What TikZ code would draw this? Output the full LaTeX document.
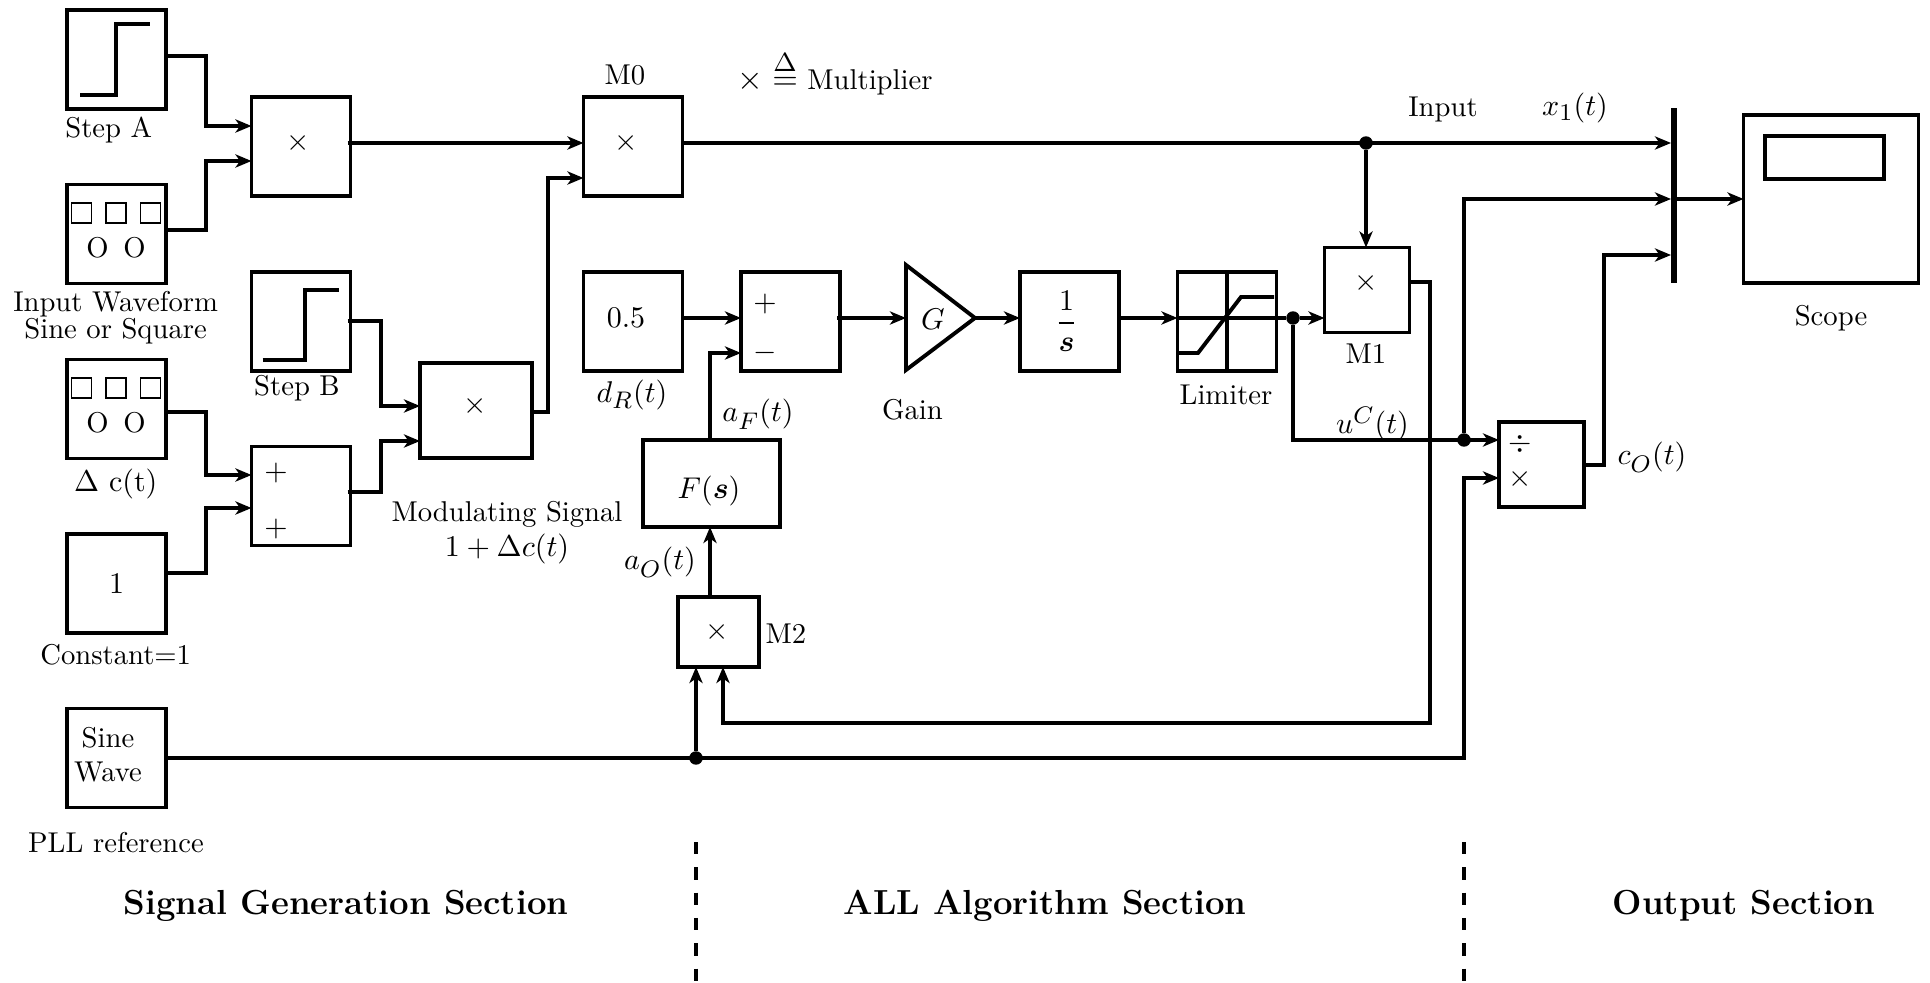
\documentclass[tikz,border=0pt]{standalone}
\usepackage{amsmath}
\usetikzlibrary{arrows.meta}
\DeclareMathSizes{10}{10}{8}{6}
\tikzset{
  px/.style 2 args={minimum width=#1*0.349pt,minimum height=#2*0.349pt},
  bx/.style={draw=black,line width=1.35pt,inner sep=0pt,outer sep=0pt,rectangle,align=center},
  sq/.style={bx,px={99}{99}},
  txt/.style={inner sep=0pt,outer sep=0pt,align=center},
  mth/.style={txt,scale=1.047},
  plainwire/.style={line width=1.25pt,line join=miter},
  wire/.style={plainwire,-{Stealth[length=5.6pt,width=4.6pt,inset=1.6pt]}},
  icon/.style={line width=1.35pt,line join=miter},
  dot/.style={circle,fill=black,inner sep=0pt,outer sep=0pt,minimum size=4.7pt},
  tiny box/.style={draw=black,line width=0.65pt,rectangle,inner sep=0pt,outer sep=0pt,px={20}{20}},
  sectitle/.style={txt,scale=1.011,font=\large\bfseries},
  divider/.style={line width=1.2pt,dash pattern=on 4.36pt off 4.47pt}
}
\begin{document}
\begin{tikzpicture}[x=0.349pt,y=-0.349pt]
\useasboundingbox (0,0) rectangle (1930,983);
% source boxes
\node[sq] (stepA) at (116.5,59.5) {};
\node[sq] (wave) at (116.5,234) {};
\node[sq] (dcbox) at (116.5,409) {};
\node[sq] (constbox) at (116.5,583.5) {\scalebox{1.047}{1}};
\node[bx,px={99}{99}] (sinebox) at (116.5,758) {};
\node[txt] (sinetext) at (108,755) {Sine\\Wave};
\draw[icon] (80,95) -- (116,95) -- (116,24) -- (150,24);
\node[tiny box] (w1) at (81.5,213) {};
\node[tiny box] (w2) at (116,213) {};
\node[tiny box] (w3) at (150.5,213) {};
\node[txt] (wo) at (116,248) {O\hspace{5.1pt}O};
\node[tiny box] (d1) at (81.5,388) {};
\node[tiny box] (d2) at (116,388) {};
\node[tiny box] (d3) at (150.5,388) {};
\node[txt] (do) at (116,423) {O\hspace{5.1pt}O};
% processing boxes
\node[sq] (mA) at (301,146.5) {};
\node[mth] (mAx) at (298,143) {$\times$};
\node[sq] (m0) at (633,146.5) {};
\node[mth] (m0x) at (626,143) {$\times$};
\node[sq] (stepB) at (301,321.5) {};
\draw[icon] (262.5,360) -- (305,360) -- (305,290) -- (339,290);
\node[bx,px={112}{95}] (modm) at (476,410.5) {};
\node[mth] (modx) at (475,406) {$\times$};
\node[sq] (sumA) at (301,496) {};
\node[mth] (sumAa) at (276,473) {$+$};
\node[mth] (sumAb) at (276,529) {$+$};
\node[sq] (d05) at (633,321.5) {};
\node[mth] (d05t) at (626,318) {0.5};
\node[sq] (sumB) at (790.5,321.5) {};
\node[mth] (sumBa) at (765,304) {$+$};
\node[mth] (sumBb) at (765,353) {$-$};
\coordinate (gainW) at (906,318);
\coordinate (gainE) at (975,318);
\draw[bx,line join=miter] (906,265) -- (975,318) -- (906,370) -- cycle;
\node[mth] (gaing) at (933,319) {$G$};
\node[sq] (intg) at (1069.5,321.5) {};
\node[mth] (intt) at (1066.5,321) {$\dfrac{1}{\boldsymbol{s}}$};
\node[sq] (limiter) at (1227,321.5) {};
\draw[icon] (limiter.north) -- (limiter.south);
\draw[icon] (1178,353) -- (1198,353) -- (1241,297) -- (1274,297);
\node[bx,px={137}{87}] (Fs) at (711.5,483.5) {};
\node[mth] (Fst) at (709,491) {$F(\boldsymbol{s})$};
\node[bx,px={81}{70}] (M2) at (718.5,632) {};
\node[mth] (M2x) at (717,632) {$\times$};
\node[bx,px={85}{85}] (M1) at (1367,290) {};
\node[mth] (M1x) at (1366.6,283) {$\times$};
\node[bx,px={85}{85}] (Div) at (1541.5,464.5) {};
\node[mth] (Diva) at (1520.5,444) {$\div$};
\node[mth] (Divb) at (1520.5,479) {$\times$};
\node[rectangle,fill=black,inner sep=0pt,outer sep=0pt,px={6}{175}] (mux) at (1674,195.5) {};
\node[bx,px={175}{168}] (scope) at (1831,199) {};
\node[bx,px={119}{43}] (screen) at (1824.5,157.5) {};
% junctions
\node[dot] (j1) at (1366,143) {};
\node[dot] (j2) at (1293,318) {};
\node[dot] (j3) at (1464,440) {};
\node[dot] (j4) at (696,758) {};
% wires
\draw[wire] ([shift={(0,-3.5)}]stepA.east) -- (206,56) -- (206,126) -- ([shift={(0,-20.5)}]mA.west);
\draw[wire] ([shift={(0,-4)}]wave.east) -- (206,230) -- (206,161) -- ([shift={(0,14.5)}]mA.west);
\draw[wire] ([shift={(-3,-3.5)}]mA.east) -- ([shift={(0,-3.5)}]m0.west);
\draw[wire] ([shift={(0,1.5)}]modm.east) -- (548,412) -- (548,178) -- ([shift={(0,31.5)}]m0.west);
\draw[wire] ([shift={(-3,-0.5)}]stepB.east) -- (381,321) -- (381,406) -- ([shift={(0,-4.5)}]modm.west);
\draw[wire] ([shift={(-3,-4)}]sumA.east) -- (381,492) -- (381,441) -- ([shift={(0,30.5)}]modm.west);
\draw[wire] ([shift={(0,3)}]dcbox.east) -- (206,412) -- (206,475) -- ([shift={(0,-21)}]sumA.west);
\draw[wire] ([shift={(0,-10.5)}]constbox.east) -- (206,573) -- (206,508) -- ([shift={(0,12)}]sumA.west);
\draw[wire] ([shift={(0,-3.5)}]m0.east) -- ([shift={(0,-52.5)}]mux.west);
\draw[wire] (j1) -- ([shift={(-1,0)}]M1.north);
\draw[wire] ([shift={(0,-3.5)}]d05.east) -- ([shift={(0,-3.5)}]sumB.west);
\draw[wire] ([shift={(-3,-3.5)}]sumB.east) -- (gainW);
\draw[wire] (gainE) -- ([shift={(0,-3.5)}]intg.west);
\draw[wire] ([shift={(-2,-3.5)}]intg.east) -- ([shift={(0,-3.5)}]limiter.west);
\draw[plainwire] ([shift={(0,-3.5)}]limiter.west) -- (j2);
\draw[wire] (j2) -- ([shift={(0,28)}]M1.west);
\draw[wire] (j2) |- ([shift={(0,-24.5)}]Div.west);
\draw[wire] (j3) |- ([shift={(0,3.5)}]mux.west);
\draw[wire] ([shift={(0,3.5)}]mux.east) -- (scope.west);
\draw[wire] ([shift={(0,0.5)}]Div.east) -- (1604,465) -- (1604,255) -- ([shift={(0,59.5)}]mux.west);
\draw[wire] ([shift={(0,-8)}]M1.east) -- (1430,282) -- (1430,723) -- (723,723) -- ([shift={(4.5,0)}]M2.south);
\draw[wire] (sinebox.east) -- (1464,758) -- (1464,478) -- ([shift={(0,13.5)}]Div.west);
\draw[wire] (j4) -- ([shift={(-22.5,0)}]M2.south);
\draw[wire] ([shift={(-8.5,0)}]M2.north) -- ([shift={(-1.5,0)}]Fs.south);
\draw[wire] ([shift={(-1.5,0)}]Fs.north) -- (710,353) -- ([shift={(0,31.5)}]sumB.west);
% labels
\node[txt] (lStepA) at (108.7,130) {Step A};
\node[txt] (lWave) at (115.6,318) {Input Waveform\\[-2.6pt]Sine or Square};
\node[mth] (lDc) at (115.7,484) {$\Delta$ c(t)};
\node[txt] (lConst) at (115.7,655) {Constant=1};
\node[txt] (lPLL) at (116,843) {PLL reference};
\node[txt] (lStepB) at (297,388.5) {Step B};
\node[txt] (lMod) at (507,532.5) {Modulating Signal\\\scalebox{1.05}{$1+\Delta c(t)$}};
\node[txt] (lM0) at (625,75) {M0};
\node[txt] (lLegend) at (835,72.5) {\scalebox{1.15}{$\times\stackrel{\Delta}{=}$} Multiplier};
\node[mth] (lDr) at (632,395) {$d_R(t)$};
\node[txt] (lGain) at (912.5,410) {Gain};
\node[txt] (lLim) at (1226,395) {Limiter};
\node[mth] (lAf) at (758,417.5) {$a_{\vphantom{(}F}(t)$};
\node[mth] (lAo) at (660,565.5) {$a_{\vphantom{(}O}(t)$};
\node[txt] (lM2) at (786,634) {M2};
\node[txt] (lM1) at (1366,354) {M1};
\node[txt] (lInput) at (1443,109.5) {Input};
\node[mth] (lX) at (1575,108) {$x_1(t)$};
\node[mth] (lU) at (1372.5,424) {$u^C(t)$};
\node[mth] (lC) at (1652,460.5) {$c_{\vphantom{(}O}(t)$};
\node[txt] (lScope) at (1831,318.5) {Scope};
\node[sectitle] (s1) at (346,905.5) {Signal Generation Section};
\node[sectitle] (s2) at (1045,905.5) {ALL Algorithm Section};
\node[sectitle] (s3) at (1744,905.5) {Output Section};
% dividers
\coordinate (da) at (696,842); \coordinate (db) at (696,983);
\coordinate (dc) at (1464,842); \coordinate (dd) at (1464,983);
\draw[divider] (da) -- (db);
\draw[divider] (dc) -- (dd);
\end{tikzpicture}
\end{document}
